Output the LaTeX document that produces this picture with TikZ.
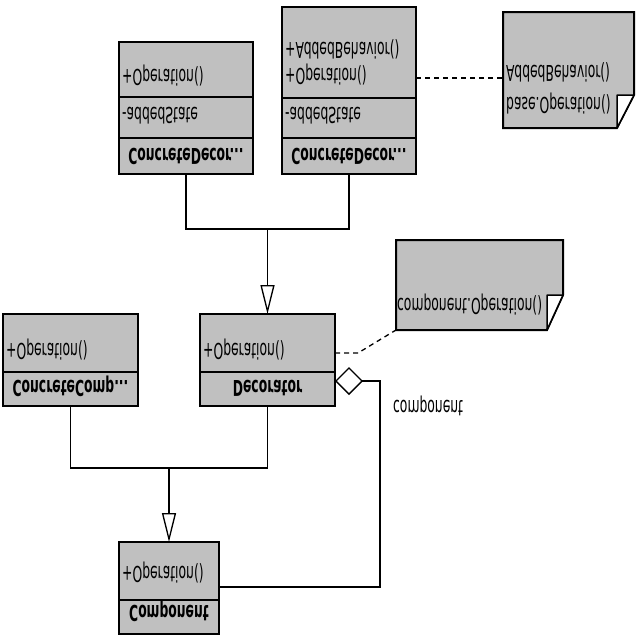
\documentclass[tikz,border=0pt]{standalone}
\usepackage{fontspec}
\setmainfont{DejaVu Sans}
\usepackage{graphicx}
\usetikzlibrary{positioning,arrows.meta}
\definecolor{classc}{HTML}{C0C0C0}
\definecolor{notec}{HTML}{C0C0C0}
\newcommand{\upside}[1]{\scalebox{0.65}[-1.15]{#1}}
\tikzset{
  part/.style={draw=black, fill=classc, line width=2pt, outer sep=0pt, inner sep=0pt},
  txt/.style={anchor=base west, inner sep=0pt, font=\fontsize{19}{22}\selectfont},
  classname/.style={anchor=base, inner sep=0pt, font=\fontsize{19}{22}\selectfont\bfseries},
  note/.style={draw=black, fill=notec, line width=2pt},
  fold/.style={draw=black, fill=white, line width=1.5pt, line join=round},
  link/.style={line width=1.3pt},
  notelink/.style={line width=1.3pt, dash pattern=on 5pt off 4pt},
  inherit/.style={link, -{Triangle[open, length=29pt, width=14pt, line width=1.3pt]}},
  aggr/.style={link, -{Diamond[open, length=28pt, width=28pt, line width=1.3pt]}},
}
\begin{document}
\begin{tikzpicture}[x=1pt, y=-1pt]
\useasboundingbox (0,0) rectangle (640,640);
\node[part, minimum width=134pt, minimum height=55pt, anchor=north] (cdaops) at (186,42) {};
\node[part, minimum width=134pt, minimum height=41pt, below=0pt of cdaops] (cdaattr) {};
\node[part, minimum width=134pt, minimum height=36pt, below=0pt of cdaattr] (cdaname) {};
\node[txt] (cdaop) at (122,69) {\upside{+Operation()}};
\node[txt] (cdast) at (122,107) {\upside{-addedState}};
\node[classname] (cdanm) at (186,148) {\upside{ConcreteDecor...}};
\node[part, minimum width=134pt, minimum height=91pt, anchor=north] (cdbops) at (349,7) {};
\node[part, minimum width=134pt, minimum height=40pt, below=0pt of cdbops] (cdbattr) {};
\node[part, minimum width=134pt, minimum height=36pt, below=0pt of cdbattr] (cdbname) {};
\node[txt] (cdbbeh) at (285,42) {\upside{+AddedBehavior()}};
\node[txt] (cdbop) at (285,68) {\upside{+Operation()}};
\node[txt] (cdbst) at (285,107) {\upside{-addedState}};
\node[classname] (cdbnm) at (349,148) {\upside{ConcreteDecor...}};
\node[part, minimum width=135pt, minimum height=58pt, anchor=north] (ccops) at (70.5,314) {};
\node[part, minimum width=135pt, minimum height=34pt, below=0pt of ccops] (ccname) {};
\node[txt] (ccop) at (6,343) {\upside{+Operation()}};
\node[classname] (ccnm) at (70.5,380) {\upside{ConcreteComp...}};
\node[part, minimum width=135pt, minimum height=58pt, anchor=north] (decops) at (267.5,314) {};
\node[part, minimum width=135pt, minimum height=34pt, below=0pt of decops] (decname) {};
\node[txt] (decop) at (203,343) {\upside{+Operation()}};
\node[classname] (decnm) at (267.5,380) {\upside{Decorator}};
\node[part, minimum width=100pt, minimum height=58pt, anchor=north] (compops) at (169,542) {};
\node[part, minimum width=100pt, minimum height=34pt, below=0pt of compops] (compname) {};
\node[txt] (compop) at (122,566) {\upside{+Operation()}};
\node[classname] (compnm) at (169,605) {\upside{Component}};
\filldraw[note] (503,12) -- (634,12) -- (634,95) -- (617,128) -- (503,128) -- cycle;
\node[txt] (notebeh) at (506,65) {\upside{AddedBehavior()}};
\node[txt] (notebase) at (506,97) {\upside{base.Operation()}};
\filldraw[fold] (617,95) -- (634,95) -- (617,128) -- cycle;
\filldraw[note] (396,240) -- (563,240) -- (563,295) -- (547,330) -- (396,330) -- cycle;
\node[txt] (notecomp) at (397,298) {\upside{component.Operation()}};
\filldraw[fold] (547,295) -- (563,295) -- (547,330) -- cycle;
\coordinate (noteaend) at (503,78);
\draw[notelink] (cdbops.east |- noteaend) -- (noteaend);
\coordinate (notebend) at (396,330);
\coordinate (decnote) at (335,353);
\draw[notelink] (decnote) -- ++(23,0) -- (notebend);
\draw[link] (cdaname.south) -- ++(0,55) -| (cdbname.south);
\coordinate (decjoin) at (267.5,229);
\draw[inherit] (decjoin) -- (decops.north);
\draw[link] (ccname.south) -- ++(0,62) -| (decname.south);
\coordinate (compjoin) at (169,468);
\draw[inherit] (compjoin) -- (compops.north);
\coordinate (compagg) at (219,587);
\coordinate (decagg) at (335,381);
\draw[aggr] (compagg) -- (380,587) -- (380,381) -- (decagg);
\node[txt] (aggname) at (393,400) {\upside{component}};
\end{tikzpicture}
\end{document}
